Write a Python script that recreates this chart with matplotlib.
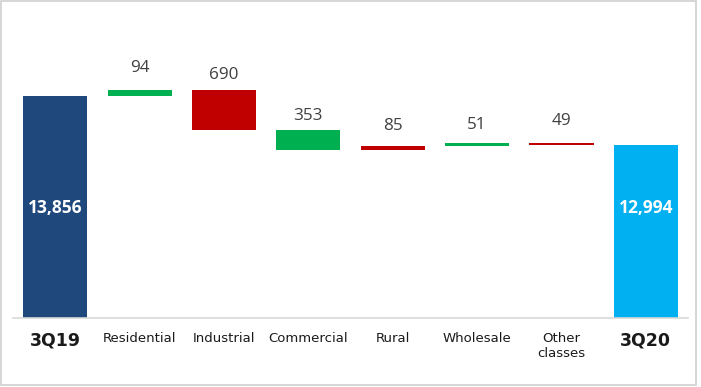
import numpy as np
import matplotlib.pyplot as plt
from matplotlib.patches import Rectangle

# energy sales bridge 3Q19 -> 3Q20
start_label = "3Q19"
end_label = "3Q20"
start_value = 13856
end_value = 12994
categories = ["Residential", "Industrial", "Commercial", "Rural", "Wholesale", "Other\nclasses"]
deltas = [94, -690, -353, 85, 51, -49]
delta_labels = ["94", "690", "353", "85", "51", "49"]

green = "#00b050"
red = "#c00000"
step_colors = [green, red, green, red, green, red]
label_offsets = [14, 7, 6, 12, 10, 14]  # px above each step

fig = plt.figure(figsize=(7.01, 3.87), dpi=100)
ax = fig.add_axes([13 / 701, 69 / 387, 675 / 701, 298 / 387])

base = 10000
width = 0.76

# totals
ax.bar(0, start_value - base, bottom=base, width=width, color="#1f497d")
ax.bar(len(deltas) + 1, end_value - base, bottom=base, width=width, color="#00b0f0")

# steps
level = start_value
tops = []
for i, d in enumerate(deltas):
    lo = min(level, level + d)
    ax.bar(i + 1, abs(d), bottom=lo, width=width, color=step_colors[i])
    tops.append(lo + abs(d))
    level += d

for i, t in enumerate(tops):
    ax.annotate(delta_labels[i], (i + 1, t), xytext=(0, label_offsets[i] * 0.72),
                textcoords="offset points", ha="center", va="bottom",
                fontsize=12.3, color="#404040", family="Open Sans")

ymid = base + 1900
ax.text(0, ymid, f"{start_value:,}", ha="center", va="center", color="white",
        fontsize=12.5, fontweight="bold", family="Open Sans")
ax.text(len(deltas) + 1, ymid, f"{end_value:,}", ha="center", va="center", color="white",
        fontsize=12.5, fontweight="bold", family="Open Sans")

ax.set_xlim(-0.5, len(deltas) + 1.5)
ax.set_ylim(base, base + 298 / 0.05765)

xt = np.arange(len(deltas) + 2)
ax.set_xticks(xt)
ax.set_xticklabels([start_label] + categories + [end_label])
for i, lab in enumerate(ax.get_xticklabels()):
    if i in (0, len(xt) - 1):
        lab.set_fontsize(12.5)
        lab.set_fontweight("bold")
        lab.set_color("#1a1a1a")
    else:
        lab.set_fontsize(9.5)
        lab.set_color("#1a1a1a")
ax.tick_params(axis="x", length=0, pad=10)
ax.set_yticks([])

for s in ["top", "right", "left"]:
    ax.spines[s].set_visible(False)
ax.spines["bottom"].set_color("#d9d9d9")
ax.spines["bottom"].set_linewidth(1.2)

# light frame round the chart
fig.patches.append(Rectangle((1 / 701, 2 / 387), 695 / 701, 384 / 387, transform=fig.transFigure,
                             fill=False, edgecolor="#d0d0d0", linewidth=1.2))

fig.savefig("out.png", dpi=100)
